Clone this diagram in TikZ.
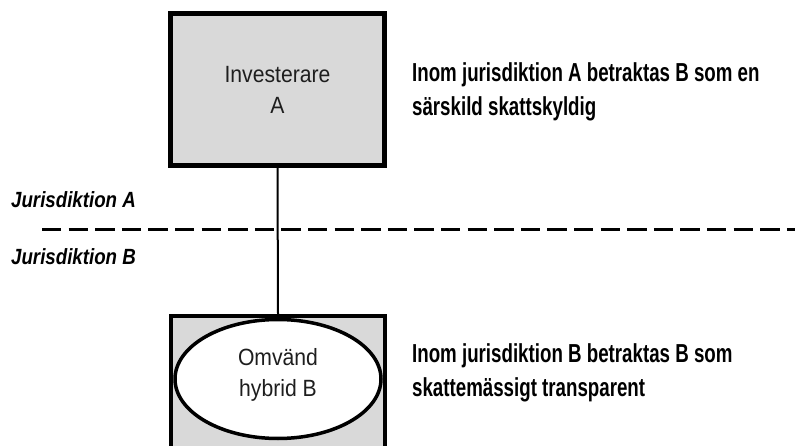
\documentclass[tikz,border=0pt]{standalone}
\usepackage{fontspec}
\setmainfont{Liberation Sans}
\usetikzlibrary{shapes.geometric}
\definecolor{boxgray}{HTML}{D9D9D9}
\definecolor{boxtext}{HTML}{1E1E1E}
\begin{document}
\begin{tikzpicture}[x=1pt,y=-1pt,
  entity/.style={draw=black, fill=boxgray, rectangle, minimum width=214pt, inner sep=0pt},
  hybrid/.style={draw=black, fill=white, ellipse, line width=3.5pt, minimum width=206pt, minimum height=119pt, inner sep=0pt},
  boxlabel/.style={text=boxtext, align=center, font=\fontsize{23.5}{31}\selectfont, xscale=0.9, transform shape},
  note/.style={anchor=north west, align=left, inner sep=0pt, font=\fontsize{26}{34}\selectfont\bfseries, xscale=0.72, transform shape},
  jurlabel/.style={anchor=base west, inner sep=0pt, font=\fontsize{22}{24}\selectfont\bfseries\itshape, xscale=0.85, transform shape},
  border/.style={line width=3pt, dash pattern=on 19.3pt off 7.3pt}]
\useasboundingbox (0,0) rectangle (795,446);

% investor and the hybrid entity
\node[entity, line width=5pt, minimum height=152pt] (inv) at (277.5,89.5) {};
\node[boxlabel] (invtext) at (inv.center) {Investerare\\A};
\node[entity, line width=4pt, minimum height=150pt] (hyb) at (278,391) {};
\node[hybrid] (ell) at (278,379) {};
\node[boxlabel] (elltext) at (278,375) {Omvänd\\hybrid B};

% ownership link
\draw[line width=2pt] (inv.south) -- (hyb.north);

% border between the two jurisdictions
\coordinate (bl) at (42,230);
\coordinate (br) at (800,230);
\draw[border] (bl) -- (br);
\node[jurlabel] (ja) at (11,208) {Jurisdiktion A};
\node[jurlabel] (jb) at (11,265) {Jurisdiktion B};

% classification notes
\node[note] (na) at (412,62) {Inom jurisdiktion A betraktas B som en\\särskild skattskyldig};
\node[note] (nb) at (412,343) {Inom jurisdiktion B betraktas B som\\skattemässigt transparent};
\end{tikzpicture}
\end{document}
